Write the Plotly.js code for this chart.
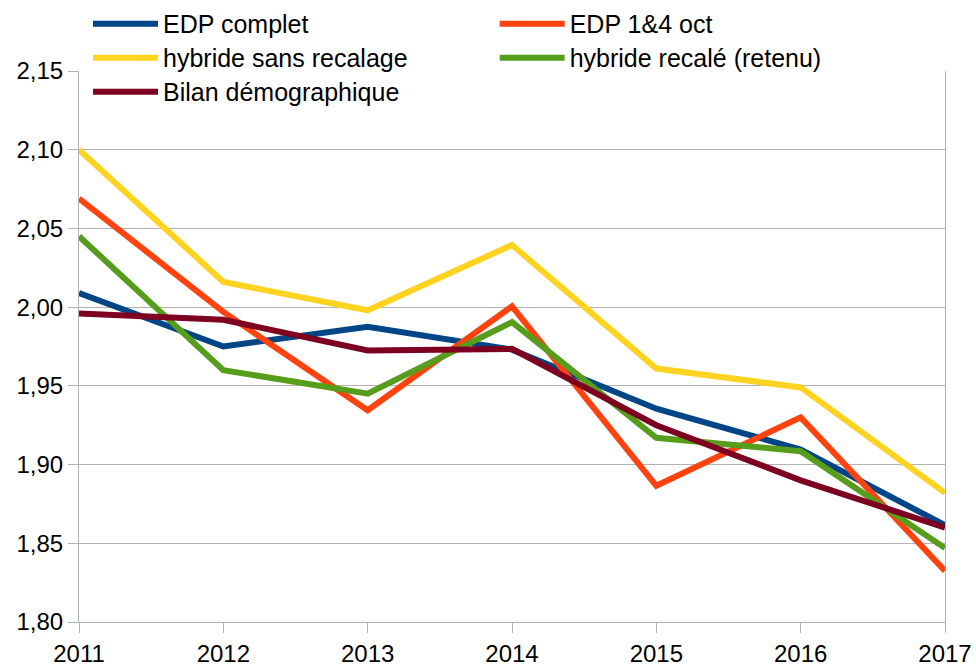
<!DOCTYPE html>
<html>
<head>
<meta charset="utf-8">
<script src="https://cdn.plot.ly/plotly-3.0.1.min.js"></script>
<style>html,body{margin:0;padding:0;background:#fff;}#chart{width:976px;height:667px;}</style>
</head>
<body>
<div id="chart"></div>
<script>
const years = [2011, 2012, 2013, 2014, 2015, 2016, 2017];
const seriesNames = ["EDP complet", "EDP 1&4 oct", "hybride sans recalage", "hybride recalé (retenu)", "Bilan démographique"];
const edpComplet = [2.009, 1.975, 1.9875, 1.973, 1.9355, 1.9095, 1.8615];
const edp14oct = [2.069, 1.997, 1.9345, 2.0005, 1.8865, 1.930, 1.8325];
const hybrideSans = [2.100, 2.016, 1.998, 2.0395, 1.961, 1.949, 1.882];
const hybrideRecale = [2.045, 1.960, 1.945, 1.9905, 1.917, 1.9085, 1.847];
const bilanDemo = [1.996, 1.992, 1.9725, 1.9735, 1.925, 1.890, 1.860];
const yTicks = [1.80, 1.85, 1.90, 1.95, 2.00, 2.05, 2.10, 2.15];

const colors = ["#004586", "#ff420e", "#ffd320", "#579d1c", "#7e0021"];
const data = [edpComplet, edp14oct, hybrideSans, hybrideRecale, bilanDemo];
const legendIds = ["legend", "legend2", "legend3", "legend4", "legend5"];

const traces = data.map((vals, i) => ({
  x: years, y: vals, type: "scatter", mode: "lines", name: seriesNames[i],
  line: {color: colors[i], width: 6}, legend: legendIds[i]
}));
const font = {family: "Liberation Sans, Arial, sans-serif", size: 24, color: "#000"};
const legFont = {family: "Liberation Sans, Arial, sans-serif", size: 25, color: "#000"};
function mkLegend(x, y) {
  return {x: x, xanchor: "left", y: y, yanchor: "middle", font: legFont, bgcolor: "rgba(0,0,0,0)",
          borderwidth: 0, itemwidth: 65, itemclick: false, itemdoubleclick: false};
}
const layout = {
  width: 976, height: 667,
  margin: {l: 79, r: 31, t: 71, b: 45, autoexpand: false},
  paper_bgcolor: "#fff", plot_bgcolor: "#fff",
  separators: ", ",
  font: font,
  showlegend: true,
  xaxis: {
    range: [2011, 2017], tickvals: years, ticktext: years.map(String),
    showgrid: false, zeroline: false, showline: true, linecolor: "#b3b3b3", linewidth: 1,
    ticks: "outside", ticklen: 10, tickcolor: "#b3b3b3", tickfont: font, fixedrange: true
  },
  yaxis: {
    range: [1.80, 2.15], tickvals: yTicks, tickformat: ".2f",
    showgrid: true, gridcolor: "#b3b3b3", gridwidth: 1, zeroline: false,
    showline: true, mirror: true, linecolor: "#b3b3b3", linewidth: 1,
    ticks: "outside", ticklen: 10, tickcolor: "#b3b3b3", tickfont: font, fixedrange: true
  },
  legend: mkLegend(0.0104, 1.0853),
  legend2: mkLegend(0.480, 1.0853),
  legend3: mkLegend(0.0104, 1.0236),
  legend4: mkLegend(0.480, 1.0236),
  legend5: mkLegend(0.0104, 0.9619)
};
Plotly.newPlot("chart", traces, layout, {staticPlot: true, displayModeBar: false});
</script>
</body>
</html>
